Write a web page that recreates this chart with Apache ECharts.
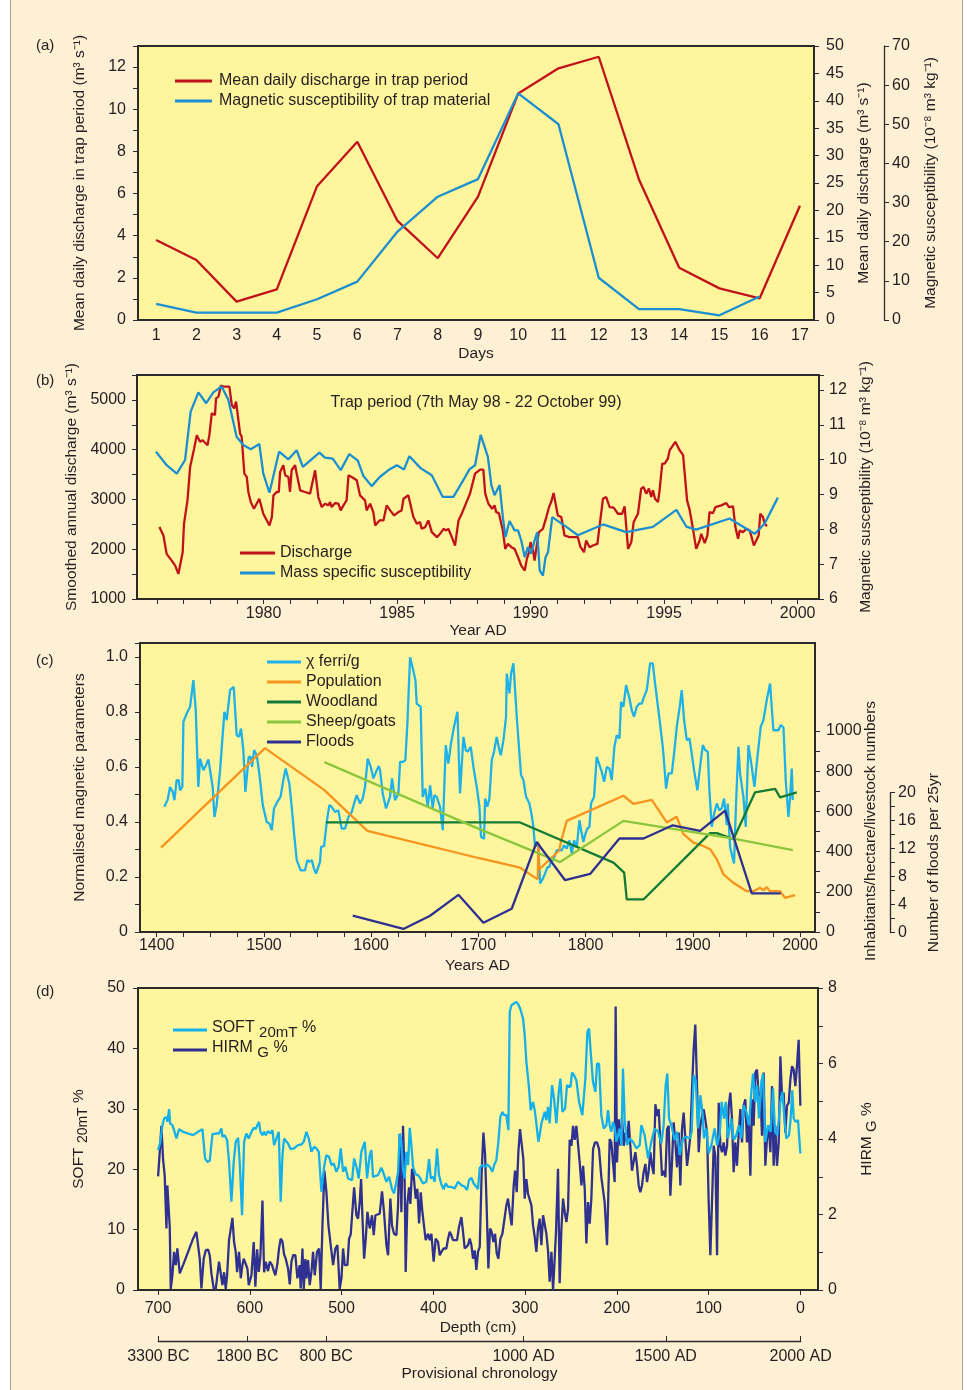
<!DOCTYPE html>
<html>
<head>
<meta charset="utf-8">
<script src="https://cdn.jsdelivr.net/npm/echarts@6/dist/echarts.min.js"></script>
<style>
  html, body { margin: 0; padding: 0; background: #fff; }
  #page { position: absolute; left: 10px; top: 0; width: 951px; height: 1390px;
          background: #fef0d4; border-left: 1.5px solid #aaa192; border-right: 1.5px solid #aaa192; }
  #chart { position: absolute; left: 0; top: 0; width: 967px; height: 1390px; }
</style>
</head>
<body>
<div id="page"></div>
<div id="chart"></div>
<script>
// ---- (a) trap period, days ----
const aDays = [1, 2, 3, 4, 5, 6, 7, 8, 9, 10, 11, 12, 13, 14, 15, 16, 17];
const aDischarge = [3.8, 2.85, 0.87, 1.45, 6.35, 8.46, 4.7, 2.93, 5.85, 10.75, 11.94, 12.49, 6.67, 2.48, 1.5, 1.03, 5.42];
const aSusceptibility = [4.1, 1.9, 1.9, 1.9, 5.3, 9.8, 22.6, 31.5, 36.0, 57.9, 50.0, 10.8, 2.8, 2.8, 1.2, 6.0, null];

// ---- (b) smoothed annual discharge / susceptibility ----
const bDischarge = [
  [1976.10,2444],[1976.25,2276],[1976.37,1907],[1976.56,1772],[1976.69,1671],[1976.81,1503],[1976.97,1940],[1977.02,2511],
  [1977.15,2982],[1977.25,3654],[1977.40,4023],[1977.50,4292],[1977.62,4158],[1977.72,4191],[1977.81,4138],[1977.90,4090],
  [1977.97,4292],[1978.06,4729],[1978.18,4695],[1978.22,5031],[1978.31,5065],[1978.40,5287],[1978.50,5266],[1978.72,5266],
  [1978.81,4897],[1978.90,4830],[1978.97,4964],[1979.12,4326],[1979.18,4259],[1979.28,3519],[1979.37,3452],[1979.43,3150],
  [1979.52,2948],[1979.64,2814],[1979.74,2914],[1979.84,3015],[1979.99,2713],[1980.22,2478],[1980.31,2646],[1980.37,3082],
  [1980.49,3150],[1980.57,3150],[1980.62,3553],[1980.74,3687],[1980.81,3486],[1980.93,3452],[1980.99,3150],[1981.05,3586],
  [1981.18,3687],[1981.24,3519],[1981.37,3183],[1981.55,3150],[1981.74,3116],[1981.80,3083],[1981.93,3586],[1982.05,3049],
  [1982.18,2847],[1982.30,2914],[1982.43,2881],[1982.49,2948],[1982.55,2847],[1982.68,2928],[1982.80,2914],[1982.89,2780],
  [1982.99,2881],[1983.11,2982],[1983.18,3486],[1983.30,3452],[1983.49,3385],[1983.61,3083],[1983.68,3049],[1983.80,2982],
  [1983.86,2780],[1983.99,2914],[1984.11,2746],[1984.18,2478],[1984.34,2578],[1984.49,2578],[1984.61,2881],[1984.74,2780],
  [1984.89,2679],[1985.05,2746],[1985.17,2780],[1985.24,3015],[1985.42,3083],[1985.61,2646],[1985.74,2511],[1985.86,2545],
  [1985.92,2410],[1986.05,2444],[1986.17,2578],[1986.30,2343],[1986.49,2242],[1986.61,2310],[1986.74,2410],[1986.84,2377],
  [1986.92,2410],[1987.05,2242],[1987.17,2074],[1987.30,2578],[1987.42,2713],[1987.55,2881],[1987.73,3116],[1987.92,3519],
  [1988.11,3600],[1988.23,3600],[1988.30,3116],[1988.42,2914],[1988.56,2814],[1988.65,2881],[1988.71,2746],[1988.81,2726],
  [1988.96,2377],[1989.05,2007],[1989.15,2108],[1989.28,2041],[1989.40,2007],[1989.53,1839],[1989.65,1671],[1989.78,1570],
  [1989.86,1806],[1989.94,1940],[1990.00,2142],[1990.09,1974],[1990.15,1772],[1990.21,2007],[1990.31,2343],[1990.46,2410],
  [1990.59,2646],[1990.69,2847],[1990.77,2948],[1990.86,3129],[1990.96,2847],[1991.02,2679],[1991.15,2646],[1991.27,2276],
  [1991.46,2242],[1991.65,2242],[1991.77,2242],[1991.87,2041],[1992.00,1940],[1992.08,2175],[1992.21,2041],[1992.33,2074],
  [1992.50,2108],[1992.61,2578],[1992.71,3015],[1992.83,3049],[1992.96,2847],[1993.11,2834],[1993.27,2713],[1993.43,2713],
  [1993.52,2861],[1993.58,2827],[1993.65,2007],[1993.77,2142],[1993.86,2545],[1994.02,2713],[1994.14,3217],[1994.23,3250],
  [1994.33,3116],[1994.43,3217],[1994.52,3049],[1994.58,3183],[1994.66,3015],[1994.77,2948],[1994.83,3183],[1994.93,3721],
  [1995.02,3721],[1995.14,3822],[1995.21,3990],[1995.42,4158],[1995.58,3990],[1995.71,3889],[1995.77,3869],[1995.86,2982],
  [1995.96,2780],[1996.08,2410],[1996.20,2007],[1996.33,2175],[1996.39,2310],[1996.52,2121],[1996.62,2276],[1996.70,2746],
  [1996.83,2726],[1996.92,2847],[1997.14,2881],[1997.33,2928],[1997.43,2847],[1997.58,2861],[1997.67,2444],[1997.77,2209],
  [1997.83,2377],[1997.95,2343],[1998.08,2410],[1998.20,2377],[1998.26,2276],[1998.36,2074],[1998.45,2175],[1998.54,2276],
  [1998.60,2713],[1998.70,2646],[1998.76,2525],[1998.85,2458]
];
const bSusceptibility = [
  [1975.97,10.23],[1976.37,9.84],[1976.75,9.60],[1977.06,9.99],[1977.27,11.38],[1977.56,11.93],[1977.85,11.62],[1978.12,11.93],
  [1978.43,12.10],[1978.68,11.72],[1978.99,10.66],[1979.24,10.42],[1979.52,10.30],[1979.84,10.45],[1979.99,9.60],[1980.22,9.05],
  [1980.58,10.23],[1980.93,10.01],[1981.24,10.27],[1981.47,9.79],[1982.09,10.20],[1982.30,10.06],[1982.59,10.03],[1982.89,9.70],
  [1983.21,10.16],[1983.53,9.97],[1983.74,9.53],[1984.05,9.24],[1984.36,9.51],[1984.68,9.70],[1984.99,9.84],[1985.26,9.72],
  [1985.46,10.10],[1985.89,9.75],[1986.30,9.55],[1986.71,8.93],[1987.11,8.93],[1987.48,9.41],[1987.71,9.72],[1987.92,9.84],
  [1988.13,10.71],[1988.40,10.08],[1988.53,9.27],[1988.65,8.98],[1988.84,9.27],[1988.96,8.35],[1989.06,7.78],[1989.21,8.24],
  [1989.40,7.97],[1989.53,7.97],[1989.65,7.68],[1989.78,7.20],[1989.90,7.49],[1990.02,7.30],[1990.15,7.68],[1990.25,7.92],
  [1990.34,6.82],[1990.46,6.67],[1990.56,7.20],[1990.65,7.34],[1990.81,8.35],[1991.34,8.07],[1991.77,7.83],[1992.71,8.14],
  [1993.58,7.92],[1994.58,8.07],[1995.46,8.56],[1995.83,8.08],[1996.20,7.99],[1997.45,8.31],[1998.39,7.87],[1998.76,8.16],
  [1999.26,8.91]
];

// ---- (c) magnetic parameters and land use, years AD ----
const cChiFerri = [
  [1407.1,0.455],[1410.2,0.481],[1412.4,0.527],[1414.9,0.509],[1416.5,0.479],[1418.6,0.552],[1420.5,0.552],[1421.7,0.515],
  [1423.9,0.527],[1424.9,0.764],[1428.0,0.794],[1431.1,0.818],[1434.2,0.915],[1436.4,0.806],[1438.8,0.527],[1440.4,0.630],
  [1442.0,0.630],[1443.5,0.588],[1446.0,0.606],[1448.2,0.627],[1450.7,0.564],[1452.2,0.527],[1453.8,0.418],[1455.9,0.461],
  [1459.1,0.588],[1463.1,0.800],[1465.3,0.770],[1468.4,0.879],[1471.8,0.891],[1474.6,0.715],[1476.8,0.709],[1478.6,0.739],
  [1480.8,0.661],[1482.7,0.509],[1485.8,0.636],[1487.7,0.636],[1488.9,0.600],[1490.8,0.661],[1493.3,0.642],[1495.7,0.576],
  [1498.9,0.461],[1500.7,0.467],[1502.6,0.400],[1505.1,0.394],[1507.3,0.370],[1509.4,0.449],[1512.5,0.473],[1515.6,0.493],
  [1518.1,0.552],[1520.3,0.594],[1523.7,0.539],[1525.9,0.455],[1528.1,0.358],[1530.6,0.261],[1534.3,0.224],[1538.3,0.224],
  [1540.5,0.261],[1542.4,0.255],[1544.6,0.261],[1546.7,0.230],[1548.6,0.212],[1552.3,0.255],[1553.3,0.309],[1556.1,0.312],
  [1558.6,0.400],[1561.0,0.461],[1563.2,0.455],[1566.3,0.436],[1569.4,0.442],[1572.5,0.376],[1575.7,0.376],[1578.8,0.418],
  [1581.9,0.436],[1584.1,0.467],[1586.5,0.497],[1589.7,0.467],[1592.1,0.485],[1594.3,0.527],[1596.8,0.630],[1599.6,0.600],
  [1602.1,0.558],[1604.6,0.582],[1607.1,0.603],[1608.3,0.588],[1610.8,0.503],[1613.9,0.449],[1617.6,0.491],[1619.5,0.558],
  [1622.3,0.479],[1625.4,0.503],[1627.0,0.618],[1629.4,0.618],[1631.9,0.624],[1633.8,0.758],[1636.3,0.998],[1638.8,0.958],
  [1641.3,0.915],[1642.5,0.830],[1646.2,0.818],[1648.1,0.491],[1650.6,0.521],[1652.8,0.455],[1655.0,0.533],[1657.4,0.449],
  [1659.0,0.497],[1661.2,0.491],[1664.3,0.455],[1666.8,0.370],[1669.6,0.679],[1672.0,0.612],[1674.5,0.685],[1677.3,0.746],
  [1680.5,0.800],[1682.9,0.503],[1686.1,0.709],[1688.2,0.661],[1690.1,0.655],[1692.9,0.673],[1695.4,0.600],[1698.5,0.527],
  [1701.0,0.455],[1702.5,0.346],[1705.3,0.339],[1706.3,0.485],[1708.4,0.455],[1710.3,0.485],[1712.5,0.624],[1714.6,0.655],
  [1717.1,0.709],[1719.6,0.661],[1720.9,0.642],[1723.4,0.697],[1725.8,0.782],[1726.5,0.939],[1729.0,0.867],[1730.5,0.939],
  [1732.7,0.976],[1735.8,0.782],[1738.3,0.649],[1739.8,0.570],[1742.0,0.552],[1744.5,0.491],[1747.6,0.467],[1749.8,0.424],
  [1751.3,0.382],[1752.9,0.309],[1754.4,0.321],[1756.0,0.309],[1757.6,0.176],[1760.1,0.194],[1762.2,0.212],[1764.4,0.236],
  [1766.3,0.236],[1767.5,0.255],[1769.4,0.261],[1771.5,0.279],[1773.1,0.297],[1774.7,0.303],[1777.8,0.297],[1779.9,0.315],
  [1782.4,0.303],[1784.9,0.333],[1787.1,0.285],[1789.3,0.333],[1791.8,0.309],[1794.3,0.406],[1795.8,0.370],[1798.0,0.327],
  [1799.5,0.352],[1801.7,0.376],[1803.6,0.382],[1805.1,0.467],[1807.9,0.491],[1810.4,0.636],[1812.6,0.612],[1815.1,0.582],
  [1817.3,0.546],[1819.8,0.600],[1822.2,0.594],[1824.4,0.552],[1826.9,0.673],[1829.1,0.715],[1831.6,0.703],[1833.1,0.836],
  [1835.3,0.818],[1837.8,0.897],[1840.9,0.849],[1843.1,0.806],[1845.2,0.782],[1847.7,0.818],[1850.2,0.830],[1852.4,0.830],
  [1854.6,0.855],[1857.1,0.879],[1860.2,0.976],[1862.7,0.976],[1864.8,0.903],[1868.9,0.776],[1872.0,0.673],[1873.2,0.618],
  [1875.1,0.521],[1877.3,0.576],[1880.4,0.576],[1882.6,0.649],[1885.1,0.746],[1888.2,0.830],[1889.7,0.879],[1891.9,0.770],
  [1894.4,0.697],[1896.9,0.703],[1899.0,0.649],[1901.2,0.588],[1904.3,0.515],[1906.8,0.600],[1909.3,0.679],[1911.5,0.661],
  [1914.0,0.655],[1915.5,0.515],[1917.7,0.382],[1919.9,0.430],[1922.4,0.467],[1924.8,0.442],[1927.0,0.449],[1929.2,0.485],
  [1931.7,0.388],[1932.6,0.467],[1934.8,0.309],[1937.0,0.273],[1938.5,0.249],[1940.4,0.473],[1942.6,0.673],[1944.1,0.576],
  [1947.2,0.491],[1949.4,0.382],[1951.9,0.679],[1955.0,0.600],[1957.5,0.527],[1960.3,0.636],[1963.4,0.746],[1965.9,0.770],
  [1969.0,0.843],[1972.1,0.903],[1975.2,0.733],[1977.7,0.733],[1979.9,0.733],[1982.1,0.752],[1984.6,0.743],[1986.7,0.552],
  [1989.2,0.418],[1990.8,0.491],[1992.3,0.594],[1993.3,0.479]
];
const cPopulation = [
  [1404.0,420],[1501.0,915],[1556.1,707],[1596.5,503],[1701.0,367],[1738.9,320],[1755.4,262],[1756.0,445],[1756.6,312],
  [1766.9,362],[1775.6,407],[1776.8,445],[1782.4,553],[1835.3,678],[1844.6,637],[1861.7,657],[1875.7,545],[1885.0,573],
  [1891.3,487],[1900.6,445],[1909.9,428],[1916.1,412],[1922.4,362],[1928.6,287],[1937.9,245],[1950.3,203],[1956.6,203],
  [1962.8,220],[1965.9,207],[1969.0,223],[1972.1,203],[1981.4,203],[1986.1,170],[1995.4,183]
];
const cWoodland = [
  [1557.9,545],[1738.9,545],[1826.0,345],[1836.0,295],[1838.4,162],[1854.0,162],[1916.1,492],[1922.4,492],
  [1937.9,462],[1958.1,695],[1976.8,712],[1981.4,670],[1997.0,695]
];
const cSheepGoats = [[1556.4,845],[1701.0,512],[1776.2,348],[1835.3,553],[1937.9,465],[1993.3,407]];
const cFloods = [
  [1582.8,2.2],[1630.1,0.3],[1655.0,2.2],[1681.4,5.2],[1704.7,1.2],[1731.1,3.2],[1754.4,12.8],[1780.9,7.3],
  [1804.2,8.2],[1831.6,13.3],[1854.0,13.3],[1881.3,15.2],[1906.8,14.4],[1930.1,17.3],[1955.0,5.4],[1982.1,5.4]
];

// ---- (d) depth profile ----
const dSoft = [
  [699.9,23.16],[697.4,24.53],[695.2,27.29],[693.4,28.39],[690.8,28.67],[689.8,27.84],[687.9,29.94],[686.8,27.57],
  [684.3,27.29],[682.5,26.46],[679.9,25.08],[677.0,26.63],[672.7,26.19],[667.2,25.91],[661.8,25.64],[656.3,26.19],
  [651.6,26.63],[648.7,21.78],[646.2,21.22],[643.6,21.39],[640.7,25.80],[637.1,25.91],[633.5,25.91],[630.9,26.74],
  [629.8,25.36],[627.3,25.64],[624.7,24.81],[622.6,21.22],[620.0,14.61],[617.5,21.22],[615.3,24.53],[612.7,25.20],
  [610.9,20.95],[608.4,12.40],[606.2,24.53],[603.7,25.91],[601.1,25.08],[598.2,26.19],[595.7,26.85],[593.5,26.63],
  [591.7,27.29],[589.9,27.84],[588.4,26.19],[586.2,25.64],[584.4,26.19],[582.6,25.64],[580.1,26.30],[577.5,25.91],
  [575.3,26.46],[573.5,23.98],[571.0,25.08],[568.4,26.19],[566.3,14.61],[564.4,22.33],[562.6,25.08],[560.8,25.36],
  [558.3,24.26],[555.4,23.32],[552.1,23.43],[547.4,23.98],[543.7,24.09],[541.2,24.53],[538.3,26.19],[535.7,25.08],
  [532.8,22.88],[529.9,23.71],[527.4,23.43],[524.8,22.88],[521.9,16.26],[519.0,20.40],[516.5,22.33],[513.6,22.05],
  [511.0,20.67],[508.5,20.95],[505.6,19.57],[503.1,20.40],[500.9,23.43],[498.3,19.57],[495.8,20.40],[492.9,18.47],
  [491.1,18.19],[488.5,18.19],[486.3,21.78],[483.8,20.40],[481.3,18.47],[478.4,22.88],[474.7,24.53],[472.2,18.47],
  [469.3,22.33],[467.5,23.16],[465.7,18.74],[462.8,18.91],[460.2,19.02],[458.4,18.74],[456.6,20.23],[454.8,19.57],
  [453.0,19.29],[451.1,17.92],[448.2,18.74],[446.4,18.74],[445.0,16.70],[442.8,15.99],[440.2,17.92],[438.4,19.57],
  [436.6,25.91],[434.8,24.53],[433.0,19.85],[431.2,18.47],[429.3,22.88],[427.5,20.67],[425.7,26.85],[423.9,23.98],
  [422.1,20.40],[419.2,19.13],[416.6,19.02],[414.1,18.47],[411.2,17.64],[407.6,17.92],[404.6,21.67],[402.8,18.47],
  [400.3,18.74],[398.5,17.92],[395.9,23.43],[393.8,19.02],[391.2,17.48],[388.7,16.70],[386.5,17.64],[384.0,17.09],
  [380.3,17.09],[376.7,16.81],[373.0,17.92],[369.4,17.36],[365.8,17.09],[363.2,16.54],[361.1,18.19],[358.5,18.58],
  [356.0,17.64],[353.1,17.09],[351.3,16.70],[349.4,20.23],[346.5,20.67],[344.0,20.40],[341.4,20.78],[338.5,20.40],
  [335.6,19.57],[333.8,20.67],[331.3,21.50],[329.1,24.53],[326.9,28.67],[324.7,29.50],[322.9,28.94],[320.4,28.94],
  [318.2,26.46],[316.7,46.04],[314.9,47.14],[312.4,47.42],[309.5,47.69],[306.9,47.14],[305.1,46.48],[303.3,46.59],
  [302.2,44.94],[300.4,42.18],[298.6,37.77],[296.0,33.91],[293.9,29.77],[291.3,31.15],[289.5,29.77],[287.7,27.57],
  [285.5,24.53],[284.1,25.64],[282.2,27.57],[280.4,27.40],[278.6,29.50],[276.8,28.12],[275.0,30.32],[273.2,27.57],
  [270.6,33.91],[268.4,31.70],[265.9,27.57],[263.3,32.81],[261.5,35.01],[259.3,29.50],[256.4,30.05],[254.3,33.91],
  [252.4,33.91],[250.6,33.63],[248.8,36.00],[246.6,35.56],[244.1,34.73],[241.2,31.15],[237.6,28.94],[234.3,35.01],
  [232.1,42.73],[230.3,43.28],[228.5,39.42],[226.0,34.46],[223.4,32.81],[221.6,37.49],[219.4,37.49],[216.9,28.94],
  [214.3,26.74],[211.4,27.29],[209.6,29.77],[207.8,27.29],[206.0,26.19],[204.2,27.84],[202.4,27.02],[200.5,24.53],
  [196.9,26.74],[195.1,23.98],[193.3,36.66],[191.5,28.39],[188.9,23.98],[186.0,25.08],[182.4,24.53],[178.7,23.43],
  [175.1,23.98],[173.3,27.29],[169.7,25.64],[166.0,21.78],[162.4,24.53],[158.8,26.74],[155.1,26.19],[151.5,24.26],
  [149.0,27.29],[146.8,33.91],[145.0,35.84],[143.1,28.39],[140.6,27.29],[137.0,24.81],[134.4,26.19],[131.5,22.33],
  [127.9,25.08],[124.3,25.36],[120.6,25.08],[118.4,26.19],[116.3,35.56],[114.1,34.73],[111.5,26.74],[109.0,32.25],
  [106.8,29.50],[105.0,25.08],[102.5,26.74],[99.9,22.60],[97.0,23.98],[93.4,26.74],[90.9,23.98],[88.0,25.64],
  [85.8,31.15],[83.2,28.39],[81.4,31.15],[78.9,25.08],[75.2,28.39],[72.7,24.81],[69.8,25.64],[66.9,27.29],
  [64.3,25.08],[61.8,30.60],[58.9,29.50],[56.0,27.29],[53.4,32.81],[51.6,35.84],[49.1,31.15],[47.2,33.91],
  [45.1,28.39],[42.5,34.46],[40.7,35.84],[38.2,24.53],[35.3,27.29],[32.4,26.19],[29.8,33.36],[27.6,26.19],
  [25.1,25.64],[21.8,31.15],[19.6,32.81],[17.1,27.84],[15.3,25.08],[12.4,25.64],[10.6,28.39],[8.8,33.08],
  [7.3,28.39],[5.1,27.84],[2.6,28.12],[0.0,22.60]
];
const dHirm = [
  [699.9,3.01],[697.4,3.91],[696.3,4.35],[694.5,3.47],[692.7,3.03],[690.8,1.63],[689.8,2.77],[687.9,2.77],[687.2,1.67],
  [686.1,0.03],[684.3,0.39],[682.5,1.01],[680.7,0.66],[678.9,1.10],[676.3,0.44],[672.7,0.66],[667.2,1.01],[661.8,1.36],
  [658.2,1.54],[654.5,0.83],[652.7,0.04],[650.2,0.83],[648.0,1.05],[645.4,1.07],[643.6,0.92],[641.8,0.44],[639.3,0.04],
  [637.1,0.03],[635.3,0.04],[633.5,0.75],[631.6,0.76],[629.8,0.13],[628.0,0.47],[626.2,0.03],[624.7,0.39],[622.6,1.32],
  [621.1,1.32],[618.9,1.91],[617.1,1.27],[615.3,1.01],[613.8,0.47],[611.7,1.01],[609.8,0.31],[608.0,0.66],[606.6,0.83],
  [604.8,0.83],[602.6,0.57],[601.1,0.13],[598.2,0.39],[595.7,1.27],[593.9,0.09],[592.0,1.08],[590.2,0.48],[588.4,0.90],
  [586.2,2.37],[584.4,0.47],[582.6,0.75],[580.1,0.50],[578.2,0.75],[575.7,0.66],[573.5,0.48],[572.1,0.39],[569.9,0.70],
  [568.1,1.10],[566.3,1.36],[564.4,1.29],[562.6,0.94],[560.8,0.83],[558.3,0.57],[556.4,0.15],[554.6,0.75],[552.8,0.92],
  [550.3,0.92],[548.1,0.31],[545.6,0.66],[544.5,0.04],[542.6,1.10],[541.2,0.03],[539.4,0.82],[538.3,0.31],[536.5,0.79],
  [534.7,0.13],[532.8,0.48],[531.0,1.01],[529.2,0.39],[526.7,1.01],[524.5,1.10],[522.7,0.03],[520.8,1.71],[518.7,3.16],
  [516.5,2.59],[514.3,1.71],[511.8,1.19],[509.2,0.66],[506.7,1.10],[504.5,1.19],[502.0,0.03],[500.1,0.31],[498.3,1.10],
  [496.5,0.66],[493.6,0.66],[491.8,1.36],[490.0,1.47],[488.2,1.45],[486.3,2.72],[483.8,1.98],[482.0,1.89],[480.2,2.33],
  [478.7,2.94],[477.3,1.98],[475.4,0.83],[473.6,1.36],[471.8,2.07],[469.3,1.63],[466.8,1.98],[464.9,1.45],[463.1,1.98],
  [461.3,2.02],[458.4,2.02],[455.9,2.61],[453.7,2.06],[451.1,1.19],[449.3,0.92],[446.8,2.42],[445.0,1.71],[442.8,1.49],
  [440.2,1.45],[438.4,2.24],[436.6,4.13],[434.8,2.06],[433.0,4.35],[431.2,2.86],[430.1,0.48],[428.3,2.28],[426.4,2.72],
  [425.0,2.28],[423.2,3.21],[421.4,3.03],[419.2,2.42],[417.4,2.68],[415.5,1.76],[413.7,2.59],[411.9,2.06],[410.1,2.06],
  [408.3,1.32],[405.7,1.49],[403.9,1.32],[402.1,1.49],[399.6,0.75],[397.4,1.36],[394.8,1.27],[393.0,0.92],[391.2,1.01],
  [388.7,1.10],[385.8,1.10],[383.9,1.36],[382.1,1.54],[380.3,1.45],[378.5,1.32],[376.7,1.27],[374.1,1.32],[372.0,1.67],
  [369.4,1.93],[367.6,1.54],[365.8,1.10],[364.0,1.05],[362.1,1.19],[360.3,1.36],[358.5,1.19],[356.7,0.83],[354.9,1.05],
  [353.1,0.53],[351.3,1.01],[349.4,1.14],[347.3,3.12],[345.4,4.17],[343.6,3.60],[341.8,2.15],[340.0,0.57],[338.2,1.63],
  [336.4,1.54],[334.5,1.27],[332.7,1.49],[330.9,0.97],[329.1,0.83],[326.9,1.36],[324.7,1.49],[322.9,1.54],[320.4,2.24],
  [318.6,2.42],[316.7,2.06],[314.6,1.71],[312.4,2.77],[310.9,3.16],[309.1,2.59],[307.3,3.65],[305.5,4.26],[303.7,4.31],
  [301.9,3.47],[300.4,2.42],[298.6,2.94],[296.8,2.55],[294.9,2.59],[293.1,2.24],[291.3,1.71],[289.5,1.41],[287.7,1.01],
  [285.9,1.63],[284.1,1.89],[282.2,1.19],[280.4,1.98],[278.6,2.02],[276.8,1.49],[275.0,1.05],[273.2,0.22],[271.3,1.01],
  [269.5,0.00],[268.1,0.66],[266.3,1.54],[264.1,3.21],[262.3,0.18],[260.4,1.63],[258.6,2.42],[256.8,2.06],[255.0,1.80],
  [253.2,2.15],[251.4,3.98],[249.5,3.82],[247.7,4.35],[245.9,3.98],[244.1,4.35],[242.3,4.35],[240.5,3.38],[238.6,2.77],
  [236.8,3.29],[235.0,2.68],[233.2,1.23],[231.4,2.33],[229.6,1.76],[227.8,2.42],[225.9,3.73],[223.8,3.91],[221.6,3.91],
  [219.4,3.73],[216.9,2.99],[215.1,2.94],[213.3,2.33],[210.7,1.19],[209.6,2.24],[207.8,4.00],[206.0,3.91],[204.2,3.38],
  [202.4,2.86],[201.3,7.51],[199.8,3.38],[198.0,4.52],[196.2,3.82],[194.4,4.57],[192.5,3.82],[190.7,4.17],[188.9,3.91],
  [187.1,4.48],[185.3,3.82],[183.5,3.16],[181.7,3.21],[179.8,3.65],[178.0,3.29],[176.2,2.77],[174.4,2.59],[172.6,2.77],
  [170.8,3.12],[168.9,3.34],[167.1,2.86],[165.3,3.16],[163.5,3.65],[161.7,3.29],[159.9,3.07],[158.0,4.92],[156.2,4.61],
  [154.4,4.79],[152.6,3.91],[150.8,3.03],[149.0,3.16],[147.1,2.99],[145.3,4.26],[143.5,4.35],[141.7,2.50],[139.9,3.38],
  [138.1,4.44],[136.2,3.91],[134.4,3.25],[132.6,4.17],[130.8,2.77],[129.0,4.26],[127.2,4.70],[125.4,4.70],[123.5,3.29],
  [121.7,3.65],[119.9,4.09],[118.1,5.32],[116.3,6.37],[114.5,7.03],[112.6,5.40],[110.8,3.65],[109.0,4.35],[107.2,4.61],
  [105.4,4.79],[103.6,4.52],[101.7,4.17],[99.9,2.33],[98.1,0.92],[96.3,2.33],[94.5,3.82],[92.7,3.56],[90.8,0.92],
  [89.0,4.96],[87.2,3.82],[85.4,3.65],[83.6,3.91],[81.8,3.56],[79.9,3.82],[78.1,4.88],[76.3,5.23],[74.5,4.52],
  [72.7,3.12],[70.9,3.91],[69.1,3.29],[67.2,4.17],[65.4,4.79],[63.6,3.91],[61.8,4.88],[60.0,5.05],[58.2,3.91],
  [56.3,4.52],[54.5,3.03],[52.7,5.05],[50.9,4.35],[49.1,5.76],[47.3,5.84],[45.4,5.14],[43.6,5.23],[41.8,4.09],
  [40.0,5.76],[38.2,3.29],[36.4,4.00],[34.5,4.35],[32.7,3.65],[30.9,5.40],[29.1,3.29],[27.3,4.35],[25.5,3.29],
  [23.6,3.91],[21.8,6.19],[20.0,5.14],[18.2,5.23],[16.4,4.17],[14.6,4.88],[12.7,4.96],[10.9,5.58],[9.1,5.93],
  [7.3,5.84],[5.5,5.40],[3.7,5.93],[1.9,6.63],[0.0,4.88]
];
const chronoDepths = [700, 603, 517, 302, 147, 0];
const chronoLabels = ['3300 BC', '1800 BC', '800 BC', '1000 AD', '1500 AD', '2000 AD'];

const FONT = '"Liberation Sans", Arial, Helvetica, sans-serif';
const TXT = '#231f20';
const FRAME = '#2b2b2b';
const PLOT_BG = '#fff59c';

function steps(from, to, step) {
  const out = [];
  for (let v = from; v <= to + 1e-9; v += step) out.push(Math.round(v * 1000) / 1000);
  return out;
}
const lbl = (extra) => Object.assign({ color: TXT, fontSize: 16, fontFamily: FONT, formatter: v => String(v) }, extra || {});
const tick = (extra) => Object.assign({ show: true, length: 5, lineStyle: { color: FRAME, width: 1 } }, extra || {});
const nameStyle = (extra) => Object.assign({ color: TXT, fontSize: 15.5, fontFamily: FONT }, extra || {});
const noLine = { show: false, onZero: false };
const shownLine = { show: true, onZero: false, lineStyle: { color: FRAME, width: 1.3 } };
const noSplit = { show: false };
const plotGrid = (left, top, width, height) => ({
  left, top, width, height, show: true, backgroundColor: PLOT_BG, borderColor: FRAME, borderWidth: 2
});
const line = (name, data, color, xi, yi, z) => ({
  name, type: 'line', data, xAxisIndex: xi, yAxisIndex: yi, symbol: 'none', z: z || 2,
  lineStyle: { color, width: 2.3 }, itemStyle: { color }, animation: false
});
const legendBase = (data, left, top, itemWidth, pad) => ({
  data, left, top, orient: 'vertical', icon: 'rect', itemWidth, itemHeight: 3, itemGap: 2,
  selectedMode: false,
  textStyle: { color: TXT, fontSize: 16, fontFamily: FONT, lineHeight: 18, padding: [0, 0, 0, pad] }
});
const richName = (subSize) => ({
  n: { fontSize: 15.5, color: TXT, fontFamily: FONT, verticalAlign: 'top' },
  s: { fontSize: subSize, color: TXT, fontFamily: FONT, verticalAlign: 'top', padding: [5, 0, 0, 0] }
});

const chart = echarts.init(document.getElementById('chart'), null, { renderer: 'canvas' });

const option = {
  animation: false,
  backgroundColor: 'transparent',
  textStyle: { fontFamily: FONT },
  grid: [
    plotGrid(138, 46, 676, 274),
    plotGrid(137, 375, 682, 224),
    plotGrid(140, 643, 675, 289),
    plotGrid(138, 988, 680, 302),
    { left: 880, top: 792.7, width: 10, height: 140, show: false },
    { left: 158.3, top: 1300, width: 642.4, height: 41, show: false }
  ],
  xAxis: [
    { gridIndex: 0, type: 'value', min: 0.55, max: 17.35, axisLine: noLine, splitLine: noSplit,
      axisTick: { show: false }, axisLabel: lbl({ customValues: aDays, margin: 8 }),
      name: 'Days', nameLocation: 'middle', nameGap: 26, nameTextStyle: nameStyle() },
    { gridIndex: 1, type: 'value', min: 1975.26, max: 2000.8, axisLine: noLine, splitLine: noSplit,
      axisTick: tick({ customValues: steps(1976, 2000, 1) }),
      axisLabel: lbl({ customValues: [1980, 1985, 1990, 1995, 2000], margin: 7 }),
      name: 'Year AD', nameLocation: 'middle', nameGap: 21, nameTextStyle: nameStyle() },
    { gridIndex: 2, type: 'value', min: 1384.4, max: 2014, axisLine: noLine, splitLine: noSplit,
      axisTick: tick({ customValues: steps(1400, 2000, 25) }),
      axisLabel: lbl({ customValues: steps(1400, 2000, 100), margin: 6 }),
      name: 'Years AD', nameLocation: 'middle', nameGap: 26, nameTextStyle: nameStyle() },
    { gridIndex: 3, type: 'value', min: -19.2, max: 721.8, inverse: true, axisLine: noLine, splitLine: noSplit,
      axisTick: tick({ customValues: steps(0, 700, 100) }),
      axisLabel: lbl({ customValues: steps(0, 700, 100), margin: 11 }),
      name: 'Depth (cm)', nameLocation: 'middle', nameGap: 30, nameTextStyle: nameStyle() },
    { gridIndex: 4, type: 'value', min: 0, max: 1, show: false },
    { gridIndex: 5, type: 'value', min: 0, max: 700, inverse: true, splitLine: noSplit,
      axisLine: shownLine,
      axisTick: tick({ inside: true, customValues: chronoDepths }),
      axisLabel: lbl({ customValues: chronoDepths, margin: 8,
        formatter: v => chronoLabels[chronoDepths.indexOf(v)] || '' }),
      name: 'Provisional chronology', nameLocation: 'middle', nameGap: 25, nameTextStyle: nameStyle() }
  ],
  yAxis: [
    // 0: (a) left
    { gridIndex: 0, type: 'value', position: 'left', min: 0, max: 13, interval: 1,
      axisLine: noLine, splitLine: noSplit, axisTick: tick(),
      axisLabel: lbl({ margin: 12, formatter: v => (v % 2 === 0 && v <= 12 ? String(v) : '') }),
      name: 'Mean daily discharge in trap period (m³ s⁻¹)', nameLocation: 'middle', nameGap: 50,
      nameTextStyle: nameStyle() },
    // 1: (a) right discharge
    { gridIndex: 0, type: 'value', position: 'right', min: 0, max: 50, interval: 5,
      axisLine: noLine, splitLine: noSplit, axisTick: tick(), axisLabel: lbl({ margin: 12 }),
      name: 'Mean daily discharge (m³ s⁻¹)', nameLocation: 'middle', nameGap: 42, nameTextStyle: nameStyle() },
    // 2: (a) right susceptibility
    { gridIndex: 0, type: 'value', position: 'right', offset: 70, min: 0, max: 70, interval: 10,
      axisLine: shownLine, splitLine: noSplit,
      axisTick: tick(), axisLabel: lbl({ margin: 8 }),
      name: 'Magnetic susceptibility (10⁻⁸ m³ kg⁻¹)', nameLocation: 'middle', nameGap: 39,
      nameTextStyle: nameStyle() },
    // 3: (b) left
    { gridIndex: 1, type: 'value', position: 'left', min: 1000, max: 5500, interval: 500,
      axisLine: noLine, splitLine: noSplit, axisTick: tick(),
      axisLabel: lbl({ margin: 11, formatter: v => (v % 1000 === 0 ? String(v) : '') }),
      name: 'Smoothed annual discharge (m³ s⁻¹)', nameLocation: 'middle', nameGap: 52,
      nameTextStyle: nameStyle() },
    // 4: (b) right
    { gridIndex: 1, type: 'value', position: 'right', min: 6, max: 12.43, interval: 1,
      axisLine: noLine, splitLine: noSplit, axisTick: tick(),
      axisLabel: lbl({ margin: 10, formatter: v => (Number.isInteger(v) ? String(v) : '') }),
      name: 'Magnetic susceptibility (10⁻⁸ m³ kg⁻¹)', nameLocation: 'middle', nameGap: 39,
      nameTextStyle: nameStyle() },
    // 5: (c) left
    { gridIndex: 2, type: 'value', position: 'left', min: 0, max: 1.05, interval: 0.1,
      axisLine: noLine, splitLine: noSplit, axisTick: tick(),
      axisLabel: lbl({ margin: 12, formatter: v => {
        const k = Math.round(v * 10);
        if (Math.abs(v * 10 - k) > 1e-6 || k % 2 !== 0) return '';
        return k === 0 ? '0' : (k / 10).toFixed(1);
      } }),
      name: 'Normalised magnetic parameters', nameLocation: 'middle', nameGap: 52, nameTextStyle: nameStyle() },
    // 6: (c) right inhabitants / livestock
    { gridIndex: 2, type: 'value', position: 'right', min: 0, max: 1438,
      axisLine: noLine, splitLine: noSplit,
      axisTick: tick({ customValues: steps(0, 1000, 100) }),
      axisLabel: lbl({ margin: 11, customValues: steps(0, 1000, 200) }) },
    // 7: (c) floods, drawing scale
    { gridIndex: 2, type: 'value', min: -0.14, max: 41.4, show: false, axisLine: noLine },
    // 8: (d) left
    { gridIndex: 3, type: 'value', position: 'left', min: 0, max: 50, interval: 10,
      axisLine: noLine, splitLine: noSplit, axisTick: tick(), axisLabel: lbl({ margin: 13 }),
      name: '{n|SOFT }{s|20mT}{n| %}', nameLocation: 'middle', nameGap: 48,
      nameTextStyle: nameStyle({ rich: richName(14) }) },
    // 9: (d) right
    { gridIndex: 3, type: 'value', position: 'right', min: 0, max: 8, interval: 1,
      axisLine: noLine, splitLine: noSplit, axisTick: tick(),
      axisLabel: lbl({ margin: 10, formatter: v => (v % 2 === 0 ? String(v) : '') }),
      name: '{n|HIRM }{s|G}{n| %}', nameLocation: 'middle', nameGap: 41,
      nameTextStyle: nameStyle({ rich: richName(15) }) },
    // 10: (c) floods axis display
    { gridIndex: 4, type: 'value', position: 'right', min: 0, max: 20, interval: 2,
      axisLine: shownLine, splitLine: noSplit,
      axisTick: tick(), axisLabel: lbl({ margin: 8, formatter: v => (v % 4 === 0 ? String(v) : '') }),
      name: 'Number of floods per 25yr', nameLocation: 'middle', nameGap: 36, nameTextStyle: nameStyle() },
    // 11: chronology dummy
    { gridIndex: 5, type: 'value', show: false, axisLine: noLine }
  ],
  legend: [
    legendBase(['Mean daily discharge in trap period', 'Magnetic susceptibility of trap material'], 170, 67, 37, 2),
    legendBase(['Discharge', 'Mass specific susceptibility'], 235, 539, 35, 0),
    legendBase(['χ ferri/g', 'Population', 'Woodland', 'Sheep/goats', 'Floods'], 262, 648, 34, 0),
    Object.assign(legendBase(['SOFT 20mT %', 'HIRM G %'], 168, 1015, 34, 0), {
      formatter: name => name === 'SOFT 20mT %' ? '{n|SOFT }{s|20mT}{n| %}' : '{n|HIRM }{s|G}{n| %}',
      textStyle: { color: TXT, fontSize: 16, fontFamily: FONT, padding: [0, 0, 0, 0],
        rich: {
          n: { fontSize: 16, color: TXT, fontFamily: FONT, verticalAlign: 'top' },
          s: { fontSize: 15, color: TXT, fontFamily: FONT, verticalAlign: 'top', padding: [5, 0, 0, 0] }
        } },
      itemGap: 0
    })
  ],
  graphic: [
    { type: 'text', left: 36, top: 38, style: { text: '(a)', fill: TXT, font: '15px ' + FONT } },
    { type: 'text', left: 36, top: 373, style: { text: '(b)', fill: TXT, font: '15px ' + FONT } },
    { type: 'text', left: 36, top: 653, style: { text: '(c)', fill: TXT, font: '15px ' + FONT } },
    { type: 'text', left: 36, top: 984, style: { text: '(d)', fill: TXT, font: '15px ' + FONT } },
    { type: 'text', x: 476, y: 403, style: { text: 'Trap period (7th May 98 - 22 October 99)',
      fill: TXT, font: '16px ' + FONT, textAlign: 'center', textVerticalAlign: 'middle' } },
    { type: 'text', x: 871, y: 831, rotation: Math.PI / 2, style: { text: 'Inhabitants/hectare/livestock numbers',
      fill: TXT, font: '15.5px ' + FONT, textAlign: 'center', textVerticalAlign: 'middle' } }
  ],
  series: [
    line('Mean daily discharge in trap period', aDays.map((d, i) => [d, aDischarge[i]]), '#c1121c', 0, 0),
    line('Magnetic susceptibility of trap material',
      aDays.map((d, i) => [d, aSusceptibility[i]]).filter(p => p[1] !== null), '#1b8fd2', 0, 2),
    line('Discharge', bDischarge, '#c1121c', 1, 3),
    line('Mass specific susceptibility', bSusceptibility, '#1b8fd2', 1, 4),
    line('χ ferri/g', cChiFerri, '#1eb1ea', 2, 5),
    line('Population', cPopulation, '#f7941d', 2, 6, 3),
    line('Woodland', cWoodland, '#137a37', 2, 6, 3),
    line('Sheep/goats', cSheepGoats, '#8cc63f', 2, 6, 3),
    line('Floods', cFloods, '#2e3192', 2, 7, 3),
    line('HIRM G %', dHirm, '#2e3192', 3, 9, 2),
    line('SOFT 20mT %', dSoft, '#14b0ec', 3, 8, 3)
  ]
};

chart.setOption(option);
</script>
</body>
</html>
